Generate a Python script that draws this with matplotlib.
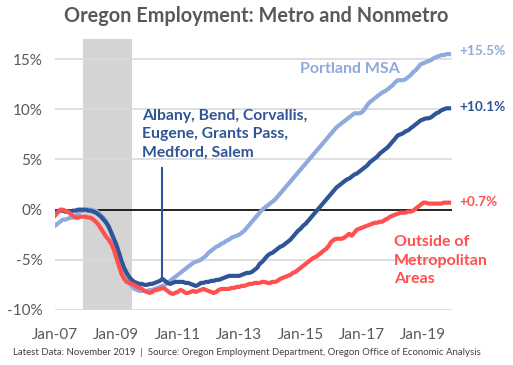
import numpy as np
from matplotlib import pyplot as plt

# months since Jan 2007 (Jan-07 .. Nov-19)
tick_labels = ["Jan-07", "Jan-09", "Jan-11", "Jan-13", "Jan-15", "Jan-17", "Jan-19"]
tick_months = [0, 24, 48, 72, 96, 120, 144]

portland = [
    -1.6, -1.4, -1.2, -1.0, -1.0, -0.9, -0.8, -0.8, -0.6, -0.4, -0.2, -0.1,  # 2007
    0.0, 0.0, 0.0, -0.1, -0.1, -0.3, -0.6, -0.8, -1.2, -1.7, -2.3, -3.0,  # 2008
    -3.6, -4.4, -5.3, -6.1, -6.8, -7.3, -7.6, -7.9, -8.0, -8.1, -8.1, -8.1,  # 2009
    -8.1, -8.0, -8.0, -7.9, -7.8, -7.7, -7.6, -7.5, -7.3, -7.1, -6.9, -6.7,  # 2010
    -6.5, -6.3, -6.1, -5.9, -5.7, -5.5, -5.3, -5.2, -5.1, -5.0, -4.8, -4.6,  # 2011
    -4.3, -4.1, -3.9, -3.7, -3.6, -3.4, -3.3, -3.1, -3.0, -2.8, -2.7, -2.6,  # 2012
    -2.5, -2.3, -2.1, -1.8, -1.5, -1.2, -0.9, -0.6, -0.3, 0.0, 0.2, 0.4,  # 2013
    0.6, 0.8, 1.0, 1.3, 1.6, 1.9, 2.2, 2.5, 2.8, 3.1, 3.4, 3.7,  # 2014
    4.0, 4.3, 4.6, 4.9, 5.2, 5.5, 5.8, 6.1, 6.4, 6.7, 7.0, 7.3,  # 2015
    7.6, 7.9, 8.2, 8.4, 8.6, 8.8, 9.0, 9.2, 9.4, 9.6, 9.6, 9.6,  # 2016
    9.7, 10.0, 10.4, 10.7, 10.9, 11.1, 11.3, 11.5, 11.7, 11.8, 12.0, 12.2,  # 2017
    12.4, 12.7, 12.9, 12.9, 12.9, 13.0, 13.2, 13.4, 13.7, 13.9, 14.2, 14.5,  # 2018
    14.6, 14.7, 14.8, 14.9, 15.1, 15.2, 15.3, 15.4, 15.4, 15.5, 15.5,  # 2019
]
other_metros = [
    -0.2, -0.2, -0.1, -0.1, -0.2, -0.2, -0.2, -0.1, -0.1, 0.0, 0.0, 0.0,
    0.0, -0.1, -0.1, -0.2, -0.3, -0.5, -0.7, -1.0, -1.3, -1.7, -2.3, -2.9,
    -3.5, -4.3, -5.1, -5.8, -6.3, -6.7, -7.0, -7.2, -7.3, -7.4, -7.4, -7.5,
    -7.5, -7.4, -7.4, -7.3, -7.2, -7.1, -6.9, -7.1, -7.3, -7.4, -7.3, -7.2,
    -7.2, -7.2, -7.2, -7.3, -7.3, -7.4, -7.5, -7.6, -7.5, -7.3, -7.3, -7.2,
    -7.2, -7.1, -7.1, -7.0, -7.0, -6.9, -6.8, -6.7, -6.6, -6.6, -6.6, -6.6,
    -6.6, -6.5, -6.4, -6.3, -6.3, -6.2, -6.0, -5.8, -5.4, -5.2, -4.9, -4.6,
    -4.4, -4.3, -4.1, -3.9, -3.7, -3.6, -3.4, -3.2, -3.0, -2.7, -2.4, -2.1,
    -1.9, -1.6, -1.4, -1.1, -0.8, -0.5, -0.2, 0.1, 0.4, 0.7, 1.0, 1.3,
    1.6, 1.9, 2.2, 2.4, 2.6, 2.8, 3.0, 3.1, 3.3, 3.5, 3.6, 3.8,
    4.0, 4.2, 4.4, 4.7, 4.9, 5.1, 5.3, 5.6, 5.8, 6.0, 6.2, 6.5,
    6.8, 7.1, 7.4, 7.5, 7.6, 7.8, 7.9, 8.1, 8.3, 8.5, 8.7, 8.9,
    9.0, 9.1, 9.1, 9.2, 9.4, 9.6, 9.7, 9.9, 10.0, 10.1, 10.1,
]
nonmetro = [
    -0.6, -0.3, 0.0, 0.0, -0.1, -0.2, -0.4, -0.6, -0.8, -0.8, -0.7, -0.7,
    -0.7, -0.8, -0.8, -1.0, -1.2, -1.5, -1.9, -2.3, -2.7, -3.0, -3.4, -4.0,
    -4.8, -5.6, -6.4, -6.9, -7.2, -7.3, -7.4, -7.5, -7.7, -7.8, -7.9, -8.1,
    -8.2, -8.3, -8.2, -8.0, -8.0, -7.9, -7.8, -7.9, -8.1, -8.3, -8.4, -8.3,
    -8.2, -8.0, -8.1, -8.3, -8.3, -8.2, -8.1, -8.2, -8.1, -8.0, -7.9, -8.0,
    -8.1, -8.2, -8.3, -8.2, -8.0, -7.9, -7.9, -7.9, -7.9, -7.8, -7.8, -7.7,
    -7.7, -7.6, -7.6, -7.5, -7.4, -7.4, -7.3, -7.3, -7.3, -7.2, -7.2, -7.3,
    -7.3, -7.2, -7.2, -7.1, -6.9, -6.8, -6.7, -6.6, -6.5, -6.3, -6.2, -6.0,
    -5.8, -5.6, -5.4, -5.2, -5.0, -4.8, -4.7, -4.5, -4.3, -4.1, -3.9, -3.6,
    -3.2, -3.0, -2.9, -2.9, -2.9, -2.8, -2.6, -2.4, -2.6, -2.3, -2.0, -1.9,
    -1.8, -1.7, -1.6, -1.5, -1.4, -1.3, -1.3, -1.2, -1.2, -1.0, -0.9, -0.7,
    -0.6, -0.5, -0.4, -0.3, -0.3, -0.3, -0.2, -0.2, -0.1, 0.1, 0.3, 0.5,
    0.7, 0.7, 0.6, 0.6, 0.6, 0.6, 0.6, 0.6, 0.7, 0.7, 0.7,
]
recession = (11, 30)  # Dec 2007 - Jul 2009

plt.rcParams["font.family"] = ["Lato", "DejaVu Sans"]

C_LIGHT = "#8faadc"
C_DARK = "#2f5597"
C_RED = "#ff4f4f"
C_TEXT = "#595959"

fig = plt.figure(figsize=(5.13, 3.65), dpi=100)
ax = fig.add_axes([0.1072, 0.1507, 0.774, 0.7423])

months = np.arange(len(portland))
ax.axvspan(*recession, color="#d4d4d4", lw=0, zorder=0)
for y in [-10, -5, 5, 10, 15]:
    ax.axhline(y, color="#d9d9d9", lw=1.2, zorder=1)
ax.axhline(0, color="black", lw=1.2, zorder=2)

ax.plot(months, portland, color=C_LIGHT, lw=3, zorder=3)
ax.plot(months, other_metros, color=C_DARK, lw=3, zorder=4)
ax.plot(months, nonmetro, color=C_RED, lw=3, zorder=5)

# callout line for the other metro areas
ax.plot([42, 42], [4.2, -6.9], color=C_DARK, lw=1.5, zorder=6)

ax.set_xlim(0, 155.2)
ax.set_ylim(-10, 17)
ax.set_yticks([-10, -5, 0, 5, 10, 15])
ax.set_yticklabels(["-10%", "-5%", "0%", "5%", "10%", "15%"])
ax.set_xticks(tick_months)
ax.set_xticklabels(tick_labels)
ax.tick_params(length=0, labelsize=11, colors=C_TEXT)
ax.tick_params(axis="x", pad=13)
ax.tick_params(axis="y", pad=9)
for s in ax.spines.values():
    s.set_visible(False)

ax.text(34, 7.5, "Albany, Bend, Corvallis,\nEugene, Grants Pass,\nMedford, Salem",
        color=C_DARK, fontsize=11.3, fontweight="bold", va="center", ha="left",
        linespacing=1.42)
ax.text(115.3, 14.0, "Portland MSA", color=C_LIGHT, fontsize=11.5,
        fontweight="bold", ha="center", va="center")
ax.text(132.5, -5.1, "Outside of\nMetropolitan\nAreas", color=C_RED, fontsize=11.5,
        fontweight="bold", ha="left", va="center", linespacing=1.42)

end_labels = ["+15.5%", "+10.1%", "+0.7%"]
for lab, yv, col in zip(end_labels, [15.8, 10.2, 0.8], [C_LIGHT, C_DARK, C_RED]):
    ax.text(158, yv, lab, color=col, fontsize=9.8, fontweight="bold",
            ha="left", va="center", clip_on=False)

fig.text(0.5, 0.957, "Oregon Employment: Metro and Nonmetro", ha="center",
         va="center", fontsize=14.3, fontweight="bold", color=C_TEXT)
fig.text(0.025, 0.035,
         "Latest Data: November 2019  |  Source: Oregon Employment Department, "
         "Oregon Office of Economic Analysis",
         ha="left", va="center", fontsize=6.9, color="#404040")

fig.savefig("out.png", dpi=100)
